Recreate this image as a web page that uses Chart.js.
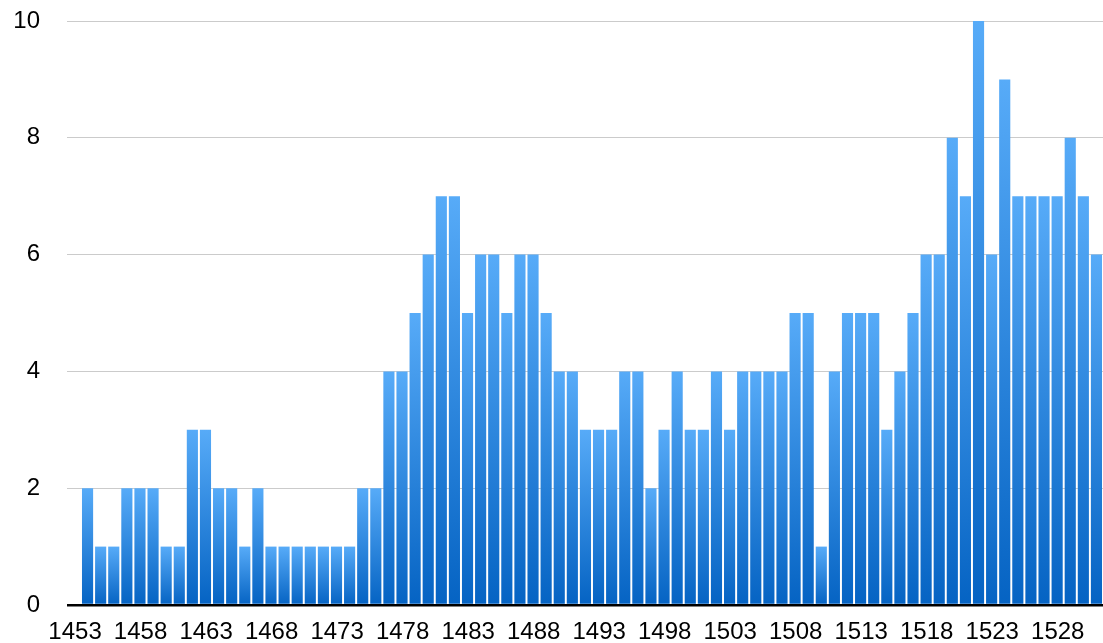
<!DOCTYPE html>
<html>
<head>
<meta charset="utf-8">
<title>Bars 1453–1530</title>
<script src="https://cdn.jsdelivr.net/npm/chart.js@4/dist/chart.umd.min.js"></script>
<style>
  html, body { margin: 0; padding: 0; background: #fff; }
  #wrap { width: 1103px; height: 643px; position: relative; }
</style>
</head>
<body>
<div id="wrap"><canvas id="chart"></canvas></div>
<script>
/* ──── Données ─────────────────────────────────────────── */

const firstYear = 1453;
const counts = [
  2, 1, 1, 2, 2, 2, 1, 1, 3, 3,   // 1453-1462
  2, 2, 1, 2, 1, 1, 1, 1, 1, 1,   // 1463-1472
  1, 2, 2, 4, 4, 5, 6, 7, 7, 5,   // 1473-1482
  6, 6, 5, 6, 6, 5, 4, 4, 3, 3,   // 1483-1492
  3, 4, 4, 2, 3, 4, 3, 3, 4, 3,   // 1493-1502
  4, 4, 4, 4, 5, 5, 1, 4, 5, 5,   // 1503-1512
  5, 3, 4, 5, 6, 6, 8, 7, 10, 6,  // 1513-1522
  9, 7, 7, 7, 7, 8, 7, 6,         // 1523-1530
];
const years = counts.map((_, i) => String(firstYear + i));
const yTicks = [0, 2, 4, 6, 8, 10];

/* ──── Styles ──────────────────────────────────────────── */

const FONT = { family: '"Liberation Sans", Arial, Helvetica, sans-serif', size: 24 };
const GRID = '#cbcbcb';

// dégradé par barre : clair en haut, foncé à la base
function barFill(ctx) {
  const chart = ctx.chart;
  if (!chart.chartArea || !chart.scales.y) return '#2f86e0';
  const y    = chart.scales.y;
  const top  = y.getPixelForValue(ctx.raw);
  const base = y.getPixelForValue(0);
  if (!isFinite(top) || !isFinite(base) || top === base) return '#2f86e0';
  const g = chart.ctx.createLinearGradient(0, top, 0, base);
  g.addColorStop(0, '#57abf8');
  g.addColorStop(1, '#0563c3');
  return g;
}

/* ──── Graphique ───────────────────────────────────────── */

new Chart(document.getElementById('chart'), {
  type: 'bar',
  data: {
    labels: years,
    datasets: [{
      data: counts,
      backgroundColor: barFill,
      borderWidth: 0,
      categoryPercentage: 1,
      barPercentage: 0.85,
    }],
  },
  options: {
    responsive: true,
    maintainAspectRatio: false,
    animation: false,
    layout: { padding: { top: 21, right: 0, bottom: 0, left: 0 } },
    plugins: { legend: { display: false }, tooltip: { enabled: false } },
    scales: {
      x: {
        grid: { display: false },
        border: { display: false },
        ticks: {
          color: '#000',
          font: FONT,
          padding: 5,
          autoSkip: false,
          maxRotation: 0,
          labelOffset: -12.5,
          callback: (v, i) => (i % 5 === 0 ? years[i] : ''),
        },
        afterFit: s => { s.height = 38; s.paddingLeft = 0; s.paddingRight = 0; },
      },
      y: {
        min: 0,
        max: 10,
        border: { display: false },
        afterBuildTicks: s => { s.ticks = yTicks.map(v => ({ value: v })); },
        grid: {
          color:     c => (c.tick && c.tick.value === 0 ? '#000' : GRID),
          tickColor: c => (c.tick && c.tick.value === 0 ? '#000' : GRID),
          lineWidth: c => (c.tick && c.tick.value === 0 ? 2.5 : 1),
          tickLength: 14,
        },
        ticks: { color: '#000', font: FONT, padding: 27 },
        afterFit: s => { s.width = 81; s.paddingTop = 0; s.paddingBottom = 0; },
      },
    },
  },
});
</script>
</body>
</html>
